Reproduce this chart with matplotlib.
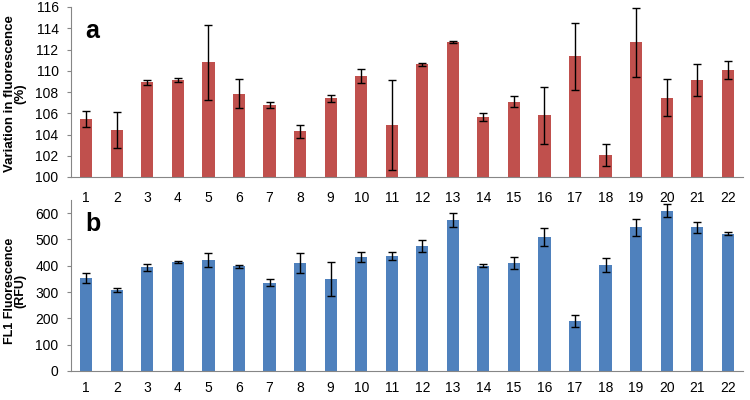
import matplotlib.pyplot as plt
import numpy as np

samples = [str(i) for i in range(1, 23)]

# panel a: variation in fluorescence (%)
var_mean = [105.5, 104.4, 108.9, 109.1, 110.8, 107.85, 106.8, 104.3, 107.4, 109.5,
            104.9, 110.6, 112.7, 105.65, 107.1, 105.8, 111.35, 102.1, 112.7, 107.45,
            109.15, 110.05]
var_err = [0.75, 1.7, 0.2, 0.2, 3.55, 1.4, 0.3, 0.6, 0.3, 0.65,
           4.2, 0.15, 0.1, 0.4, 0.55, 2.65, 3.15, 1.05, 3.25, 1.75,
           1.5, 0.85]

# panel b: FL1 fluorescence (RFU)
fl1_mean = [353, 308, 395, 415, 422, 398, 336, 410, 350, 434,
            438, 476, 574, 400, 410, 509, 189, 404, 546, 610,
            546, 522]
fl1_err = [19, 8, 13, 4, 28, 5, 12, 38, 64, 18,
           16, 22, 26, 6, 24, 34, 23, 27, 32, 25,
           20, 6]

red = '#C0504D'
blue = '#4F81BD'
axis_col = '#868686'

plt.rcParams['font.family'] = ['Liberation Sans', 'DejaVu Sans']

fig = plt.figure(figsize=(7.5, 4), dpi=100)
ax1 = fig.add_axes([0.0947, 0.5575, 0.896, 0.425])
ax2 = fig.add_axes([0.0947, 0.0725, 0.896, 0.4275])
ax2.patch.set_visible(False)

x = np.arange(len(samples))
err_style = dict(ecolor='black', elinewidth=1, capsize=3, capthick=1)

ax1.bar(x, [v - 100 for v in var_mean], bottom=100, width=0.4, color=red,
        yerr=var_err, error_kw=err_style)
ax1.set_ylim(100, 116)
ax1.set_yticks(range(100, 117, 2))
ax1.set_xlim(-0.5, len(samples) - 0.5)
ax1.set_xticks(x)
ax1.set_xticklabels(samples)
ax1.set_ylabel('Variation in fluorescence\n(%)', fontsize=9.5, fontweight='bold', linespacing=0.85)
ax1.yaxis.set_label_coords(-0.066, 0.49)
ax1.text(0.021, 0.86, 'a', transform=ax1.transAxes, fontsize=18, fontweight='bold', va='center')
ax1.tick_params(axis='x', pad=10)

ax2.bar(x, fl1_mean, width=0.4, color=blue, yerr=fl1_err, error_kw=err_style)
ax2.set_ylim(0, 650)
ax2.set_yticks(range(0, 601, 100))
ax2.set_xlim(-0.5, len(samples) - 0.5)
ax2.set_xticks(x)
ax2.set_xticklabels(samples)
ax2.set_ylabel('FL1 Fluorescence\n(RFU)', fontsize=9, fontweight='bold', linespacing=0.85)
ax2.yaxis.set_label_coords(-0.066, 0.47)
ax2.text(0.022, 0.86, 'b', transform=ax2.transAxes, fontsize=18, fontweight='bold', va='center')
ax2.tick_params(axis='x', pad=7)

for ax in (ax1, ax2):
    for s in ('top', 'right'):
        ax.spines[s].set_visible(False)
    for s in ('left', 'bottom'):
        ax.spines[s].set_color(axis_col)
    ax.tick_params(axis='x', length=0, labelsize=10)
    ax.tick_params(axis='y', length=3, color=axis_col, labelsize=10, pad=6)

fig.savefig('out.png', dpi=100)
